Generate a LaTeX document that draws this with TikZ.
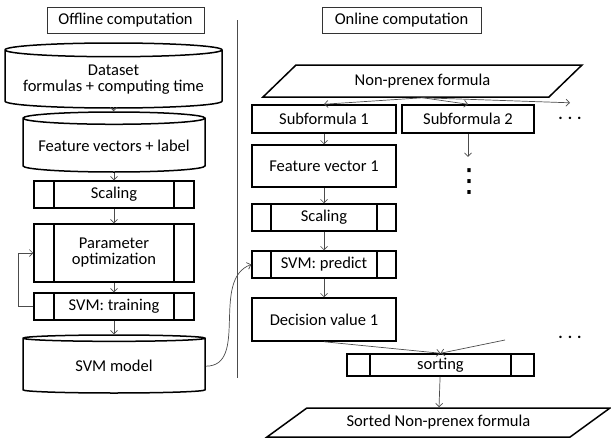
\documentclass[tikz,border=0pt]{standalone}
\usepackage{fontspec}
\setmainfont{Carlito}
\newfontfamily\symfont{DejaVu Sans}
\usetikzlibrary{shapes.geometric,arrows.meta}

\begin{document}
\begin{tikzpicture}[x=1pt,y=-1pt,
  every node/.style={font=\fontsize{16.5}{16}\selectfont, inner sep=1pt, align=center},
  heading/.style={draw=black!80, line width=.8pt, minimum width=#1, minimum height=26},
  block/.style={draw, line width=1.5pt},
  proc/.style={block, path picture={
    \draw[line width=1.5pt] ([xshift=#1]path picture bounding box.north west) -- ([xshift=#1]path picture bounding box.south west)
      ([xshift=-#1]path picture bounding box.north east) -- ([xshift=-#1]path picture bounding box.south east);}},
  proc/.default=20,
  db/.style={cylinder, shape border rotate=90, draw, line width=1.5pt, aspect=#1, anchor=shape center},
  db/.default=0.08,
  slanted/.style={trapezium, trapezium stretches body, draw, line width=1.5pt},
  arr/.style={draw=black!70, line width=.7pt, -{Straight Barb[length=3.5pt,width=7pt]}},
  hdots/.style={font=\fontsize{16.5}{16}\selectfont\bfseries, inner sep=0, minimum height=30}
]
\useasboundingbox (0,0) rectangle (611,439);

\node[heading=157] (offT) at (125.5,20) {Offline computation};
\node[heading=159] (onT) at (401.5,20) {Online computation};
\draw[black!70, line width=.7pt] (237,20) -- (237,378);

% offline part
\node[db=0.075, minimum width=217, minimum height=65] (ds) at (113.5,75.5) {Dataset\\formulas + computing time};
\node[db, minimum width=182, minimum height=60] (fv) at (114,142) {Feature vectors + label};
\node[proc, minimum width=160, minimum height=27] (scl) at (114,194.5) {Scaling};
\node[proc, minimum width=160, minimum height=58] (popt) at (114,253) {Parameter\\optimization};
\node[proc, minimum width=160, minimum height=27] (train) at (114,306.5) {SVM: training};
\node[db, minimum width=182, minimum height=58] (svmm) at (114,364) {SVM model};

\draw[arr] (ds) -- (fv);
\draw[arr] (fv) -- (scl);
\draw[arr] (scl) -- (popt);
\draw[arr] (popt) -- (train);
\draw[arr] (train) -- (svmm);
\draw[arr] (train.west) -- ++(-15,0) |- (popt.west);

% online part
\node[slanted, trapezium left angle=26, trapezium right angle=154, minimum width=319, minimum height=32] (np) at (422.5,81) {Non-prenex formula};
\node[block, minimum width=144, minimum height=28] (sf1) at (324,119) {Subformula 1};
\node[block, minimum width=132, minimum height=28] (sf2) at (468,119) {Subformula 2};
\node[hdots] (hd1) at (570,118) {. . .};
\node[block, minimum width=144, minimum height=42] (fv1) at (324,166) {Feature vector 1};
\node[font=\fontsize{32}{32}\symfont, inner sep=0, minimum height=50] (vd) at (469,182) {⋮};
\node[proc=19, minimum width=144, minimum height=27] (scl2) at (324,217.5) {Scaling};
\node[proc=19, minimum width=144, minimum height=27] (pred) at (324,264.5) {SVM: predict};
\node[block, minimum width=144, minimum height=43] (dv1) at (324,319.5) {Decision value 1};
\node[hdots] (hd2) at (570,337) {. . .};
\coordinate (dvn) at (505,340);
\node[proc=23, minimum width=187, minimum height=22] (sort) at (440.5,365) {sorting};
\node[slanted, trapezium left angle=22, trapezium right angle=158, minimum width=343, minimum height=29] (snp) at (438.5,422.5) {Sorted Non-prenex formula};

\draw[arr] (np.center |- np.south) -- (sf1.north);
\draw[arr] (np.center |- np.south) -- (sf2.north);
\draw[arr] (np.center |- np.south) -- (hd1.north);
\draw[arr] (sf1) -- (fv1);
\draw[arr] (sf2.south) -- (sf2.south |- vd.north);
\draw[arr] (fv1) -- (scl2);
\draw[arr] (scl2) -- (pred);
\draw[arr] (pred) -- (dv1);
\draw[arr] (svmm.east) to[out=0,in=200] (pred.west);
\draw[arr] (dv1.south) -- (sort.north);
\draw[arr] (dvn) -- (sort.north);
\draw[arr] (sort) -- (snp);
\end{tikzpicture}
\end{document}
